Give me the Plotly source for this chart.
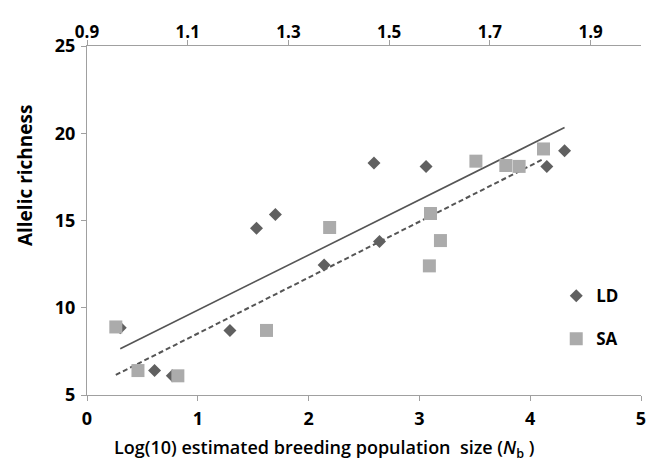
import numpy as np
import plotly.graph_objects as go

# LD estimates (diamonds)
ld_x = [0.30, 0.61, 0.77, 1.29, 1.53, 1.70, 2.14, 2.59, 2.64, 3.06, 4.15, 4.31]
ld_y = [8.85, 6.40, 6.10, 8.70, 14.55, 15.35, 12.45, 18.30, 13.80, 18.10, 18.10, 19.00]
# SA estimates (squares)
sa_x = [0.26, 0.46, 0.82, 1.62, 2.19, 3.09, 3.10, 3.19, 3.51, 3.78, 3.90, 4.12]
sa_y = [8.90, 6.40, 6.10, 8.70, 14.60, 12.40, 15.40, 13.85, 18.40, 18.15, 18.10, 19.10]

x_ticks = [0, 1, 2, 3, 4, 5]
y_ticks = [5, 10, 15, 20, 25]
top_ticks = [0.9, 1.1, 1.3, 1.5, 1.7, 1.9]

GRAY_AX = "#a0a0a0"
FONT = "Open Sans"


def fit_line(xs, ys):
    xs = np.asarray(xs)
    ys = np.asarray(ys)
    m, b = np.polyfit(xs, ys, 1)
    xx = np.array([xs.min(), xs.max()])
    return xx, m * xx + b


fig = go.Figure()

lx, ly = fit_line(ld_x, ld_y)
sx, sy = fit_line(sa_x, sa_y)

fig.add_trace(go.Scatter(x=lx, y=ly, mode="lines", showlegend=False,
                         line=dict(color="#555555", width=1.6)))
fig.add_trace(go.Scatter(x=sx, y=sy, mode="lines", showlegend=False,
                         line=dict(color="#555555", width=2, dash="5px,3px")))

fig.add_trace(go.Scatter(x=ld_x, y=ld_y, mode="markers", name="LD", legendgroup="ld",
                         marker=dict(symbol="diamond", size=10, color="#606060")))
fig.add_trace(go.Scatter(x=sa_x, y=sa_y, mode="markers", name="SA", legendgroup="sa",
                         marker=dict(symbol="square", size=13, color="#ababab")))

# carrier for the secondary (top) axis so that it is drawn
fig.add_trace(go.Scatter(x=top_ticks, y=[None] * len(top_ticks), xaxis="x2",
                         mode="markers", showlegend=False, hoverinfo="skip"))

tickfont = dict(family=FONT, size=18, color="black", weight="bold")

fig.update_layout(
    width=662, height=465,
    margin=dict(l=87, r=21, t=46, b=70),
    paper_bgcolor="white", plot_bgcolor="white",
    font=dict(family=FONT, color="black"),
    xaxis=dict(range=[0, 5], tickvals=x_ticks, showgrid=False, zeroline=False,
               showline=True, linecolor=GRAY_AX, linewidth=1.3,
               ticks="outside", ticklen=5, tickcolor=GRAY_AX, tickfont=tickfont,
               ticklabelstandoff=2),
    xaxis2=dict(range=[0.9, 2.0], tickvals=top_ticks,
                ticktext=[f"{t:.1f}" for t in top_ticks],
                overlaying="x", side="top", anchor="y",
                showgrid=False, zeroline=False,
                showline=True, linecolor=GRAY_AX, linewidth=1.3,
                ticks="outside", ticklen=5, tickcolor=GRAY_AX,
                tickfont=dict(family=FONT, size=17, color="black", weight="bold"),
                ticklabelstandoff=-5),
    yaxis=dict(range=[5, 25], tickvals=y_ticks, showgrid=False, zeroline=False,
               showline=True, linecolor=GRAY_AX, linewidth=1.3,
               ticks="outside", ticklen=5, tickcolor=GRAY_AX, tickfont=tickfont,
               ticklabelstandoff=2),
    legend=dict(x=0.847, y=0.335, xanchor="left", yanchor="top",
                bgcolor="rgba(0,0,0,0)", tracegroupgap=18,
                font=dict(family=FONT, size=17, color="black", weight="bold")),
    annotations=[
        dict(text="Log(10) estimated breeding population  size (<i>N</i><sub>b</sub> )",
             xref="paper", yref="paper", x=0.427, y=-0.152, xanchor="center", yanchor="middle",
             showarrow=False, font=dict(family=FONT, size=18, color="black", weight=600)),
        dict(text="Allelic richness", textangle=-90,
             xref="paper", yref="paper", x=-0.112, y=0.63, xanchor="center", yanchor="middle",
             showarrow=False, font=dict(family=FONT, size=19, color="black", weight="bold")),
    ],
)

fig.write_html("out.html", config={"displayModeBar": False},
               post_script="document.body.style.margin='0';")
